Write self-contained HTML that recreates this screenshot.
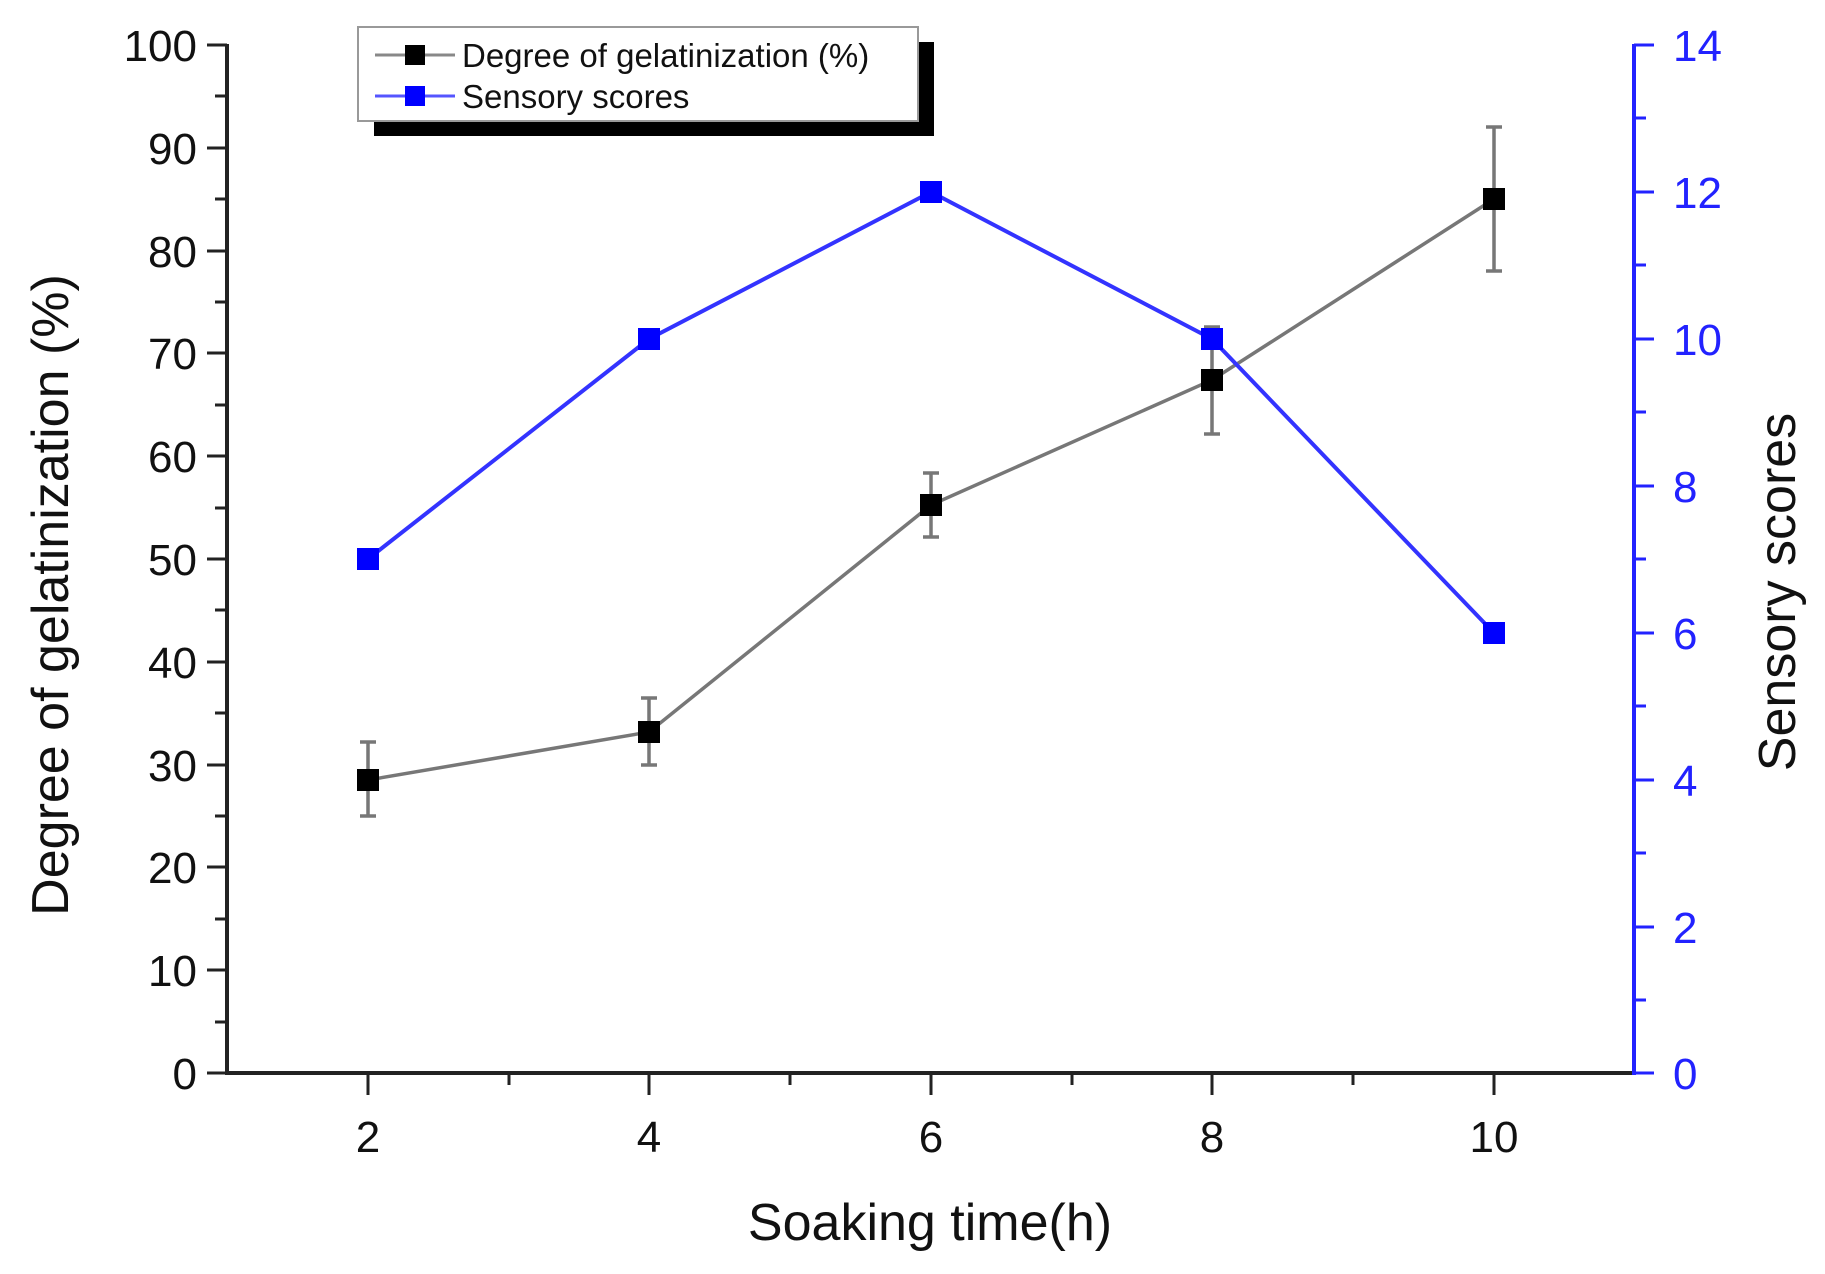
<!DOCTYPE html>
<html><head><style>body{margin:0;background:#fff}</style></head><body>
<svg width="1825" height="1269" xmlns="http://www.w3.org/2000/svg" font-family="Liberation Sans, Arial, sans-serif">
<rect width="1825" height="1269" fill="#fff"/>
<g stroke="#222" stroke-width="4" fill="none">
<line x1="227" y1="44" x2="227" y2="1075"/>
<line x1="225" y1="1073" x2="1634" y2="1073"/>
</g>
<g stroke="#222" stroke-width="3">
<line x1="207" y1="45" x2="227" y2="45"/><line x1="215" y1="96" x2="227" y2="96"/>
<line x1="207" y1="148" x2="227" y2="148"/><line x1="215" y1="199" x2="227" y2="199"/>
<line x1="207" y1="251" x2="227" y2="251"/><line x1="215" y1="302" x2="227" y2="302"/>
<line x1="207" y1="353" x2="227" y2="353"/><line x1="215" y1="405" x2="227" y2="405"/>
<line x1="207" y1="456" x2="227" y2="456"/><line x1="215" y1="508" x2="227" y2="508"/>
<line x1="207" y1="559" x2="227" y2="559"/><line x1="215" y1="610" x2="227" y2="610"/>
<line x1="207" y1="662" x2="227" y2="662"/><line x1="215" y1="713" x2="227" y2="713"/>
<line x1="207" y1="765" x2="227" y2="765"/><line x1="215" y1="816" x2="227" y2="816"/>
<line x1="207" y1="867" x2="227" y2="867"/><line x1="215" y1="919" x2="227" y2="919"/>
<line x1="207" y1="970" x2="227" y2="970"/><line x1="215" y1="1022" x2="227" y2="1022"/>
<line x1="207" y1="1073" x2="227" y2="1073"/>
<line x1="368" y1="1073" x2="368" y2="1095"/><line x1="509" y1="1073" x2="509" y2="1085"/>
<line x1="649" y1="1073" x2="649" y2="1095"/><line x1="790" y1="1073" x2="790" y2="1085"/>
<line x1="931" y1="1073" x2="931" y2="1095"/><line x1="1072" y1="1073" x2="1072" y2="1085"/>
<line x1="1212" y1="1073" x2="1212" y2="1095"/><line x1="1353" y1="1073" x2="1353" y2="1085"/>
<line x1="1494" y1="1073" x2="1494" y2="1095"/>
</g>
<g font-size="44" fill="#111" text-anchor="end">
<text x="197" y="61">100</text><text x="197" y="164">90</text><text x="197" y="267">80</text>
<text x="197" y="369">70</text><text x="197" y="472">60</text><text x="197" y="575">50</text>
<text x="197" y="678">40</text><text x="197" y="781">30</text><text x="197" y="883">20</text>
<text x="197" y="986">10</text><text x="197" y="1089">0</text>
</g>
<g font-size="44" fill="#111" text-anchor="middle">
<text x="368" y="1152">2</text><text x="649" y="1152">4</text><text x="931" y="1152">6</text>
<text x="1212" y="1152">8</text><text x="1494" y="1152">10</text>
</g>
<g stroke="#2222ff" stroke-width="4">
<line x1="1634" y1="44" x2="1634" y2="1075"/>
</g>
<g stroke="#2222ff" stroke-width="3">
<line x1="1634" y1="45" x2="1654" y2="45"/><line x1="1634" y1="118" x2="1646" y2="118"/>
<line x1="1634" y1="192" x2="1654" y2="192"/><line x1="1634" y1="265" x2="1646" y2="265"/>
<line x1="1634" y1="339" x2="1654" y2="339"/><line x1="1634" y1="412" x2="1646" y2="412"/>
<line x1="1634" y1="486" x2="1654" y2="486"/><line x1="1634" y1="559" x2="1646" y2="559"/>
<line x1="1634" y1="633" x2="1654" y2="633"/><line x1="1634" y1="706" x2="1646" y2="706"/>
<line x1="1634" y1="780" x2="1654" y2="780"/><line x1="1634" y1="853" x2="1646" y2="853"/>
<line x1="1634" y1="927" x2="1654" y2="927"/><line x1="1634" y1="1000" x2="1646" y2="1000"/>
<line x1="1634" y1="1073" x2="1654" y2="1073"/>
</g>
<g font-size="44" fill="#2222ff">
<text x="1673" y="61">14</text><text x="1673" y="208">12</text><text x="1673" y="355">10</text>
<text x="1673" y="502">8</text><text x="1673" y="649">6</text><text x="1673" y="796">4</text>
<text x="1673" y="943">2</text><text x="1673" y="1089">0</text>
</g>
<text x="930" y="1240" font-size="52" fill="#111" text-anchor="middle">Soaking time(h)</text>
<text transform="translate(68,595) rotate(-90)" font-size="52" fill="#111" text-anchor="middle">Degree of gelatinization (%)</text>
<text transform="translate(1795,592) rotate(-90)" font-size="52" fill="#111" text-anchor="middle">Sensory scores</text>
<g stroke="#777" stroke-width="3.5" fill="none">
<polyline points="368,780 649,732 931,505 1212,380 1494,199"/>
<line x1="368" y1="816" x2="368" y2="742"/><line x1="360" y1="816" x2="376" y2="816"/><line x1="360" y1="742" x2="376" y2="742"/>
<line x1="649" y1="765" x2="649" y2="698"/><line x1="641" y1="765" x2="657" y2="765"/><line x1="641" y1="698" x2="657" y2="698"/>
<line x1="931" y1="537" x2="931" y2="473"/><line x1="923" y1="537" x2="939" y2="537"/><line x1="923" y1="473" x2="939" y2="473"/>
<line x1="1212" y1="434" x2="1212" y2="327"/><line x1="1204" y1="434" x2="1220" y2="434"/><line x1="1204" y1="327" x2="1220" y2="327"/>
<line x1="1494" y1="271" x2="1494" y2="127"/><line x1="1486" y1="271" x2="1502" y2="271"/><line x1="1486" y1="127" x2="1502" y2="127"/>
</g>
<g fill="#000">
<rect x="357" y="769" width="22" height="22"/><rect x="638" y="721" width="22" height="22"/>
<rect x="920" y="494" width="22" height="22"/><rect x="1201" y="369" width="22" height="22"/>
<rect x="1483" y="188" width="22" height="22"/>
</g>
<polyline points="368,559 649,339 931,192 1212,339 1494,633" fill="none" stroke="#3333ff" stroke-width="4"/>
<g fill="#0000ff">
<rect x="357" y="548" width="22" height="22"/><rect x="638" y="328" width="22" height="22"/>
<rect x="920" y="181" width="22" height="22"/><rect x="1201" y="328" width="22" height="22"/>
<rect x="1483" y="622" width="22" height="22"/>
</g>
<rect x="374" y="42" width="560" height="94" fill="#000"/>
<rect x="358" y="27" width="560" height="94" fill="#fff" stroke="#999" stroke-width="2"/>
<line x1="375" y1="55" x2="455" y2="55" stroke="#888" stroke-width="3"/>
<rect x="405" y="45" width="20" height="20" fill="#000"/>
<line x1="375" y1="96" x2="455" y2="96" stroke="#5555ff" stroke-width="3"/>
<rect x="405" y="86" width="20" height="20" fill="#0000ff"/>
<text x="462" y="67" font-size="33" fill="#111">Degree of gelatinization (%)</text>
<text x="462" y="108" font-size="33" fill="#111">Sensory scores</text>
</svg>
</body></html>
